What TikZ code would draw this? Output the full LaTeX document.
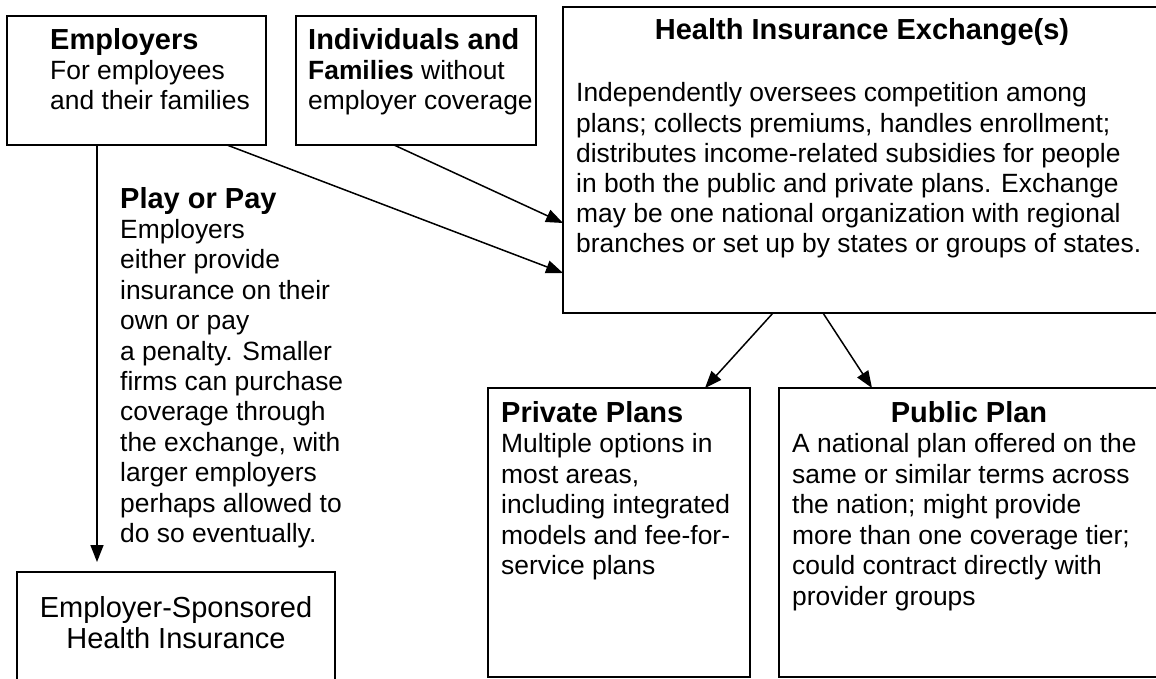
\documentclass[tikz,border=0pt]{standalone}
\usepackage{fontspec}
\setmainfont{Liberation Sans}
\usetikzlibrary{arrows.meta,calc}
\begin{document}
\begin{tikzpicture}[x=1pt,y=-1pt,
  box/.style={draw, line width=1.8pt, inner sep=0pt, outer sep=0pt, anchor=north west},
  arr/.style={line width=1.5pt, -{Triangle[length=17pt,width=13pt]}},
  txt/.style={anchor=base west, inner sep=0pt, font=\fontsize{26.4}{30}\selectfont},
  ttl/.style={anchor=base west, inner sep=0pt, font=\fontsize{29}{33}\selectfont\bfseries},
  big/.style={anchor=base, inner sep=0pt, font=\fontsize{29}{33}\selectfont}
]
\clip (0,0) rectangle (1156,679);
\fill[white] (0,0) rectangle (1156,679);

% boxes
\node[box, minimum width=259pt, minimum height=129pt] (emp) at (7,16) {};
\node[box, minimum width=240pt, minimum height=129pt] (ind) at (296,16) {};
\node[box, minimum width=598pt, minimum height=306pt] (exch) at (563,7) {};
\node[box, minimum width=262pt, minimum height=289pt] (priv) at (488,388) {};
\node[box, minimum width=381pt, minimum height=289pt] (pub) at (779,388) {};
\node[box, minimum width=318pt, minimum height=160pt] (esi) at (17,572) {};

% Employers
\node[ttl] (emp1) at (50,50) {Employers};
\node[txt] (emp2) at (50,80) {For employees};
\node[txt] (emp3) at (50,110) {and their families};

% Individuals
\node[ttl] (ind1) at (308,50) {Individuals and};
\node[txt] (ind2) at (308,80) {\bfseries Families\mdseries{} without};
\node[txt] (ind3) at (308,110) {employer coverage};

% Exchange
\node[ttl, anchor=base] (ex0) at (862,40) {Health Insurance Exchange(s)};
\foreach \t [count=\i from 0] in {
  Independently oversees competition among,
  {plans; collects premiums, handles enrollment;},
  distributes income-related subsidies for people,
  in both the public and private plans. Exchange,
  may be one national organization with regional,
  branches or set up by states or groups of states.}
  \node[txt] (ex\i) at (576,{102+30.1*\i}) {\t};

% Play or Pay
\node[ttl] (pp0) at (120,208) {Play or Pay};
\foreach \t [count=\i from 1] in {
  Employers,
  either provide,
  insurance on their,
  own or pay,
  a penalty. Smaller,
  firms can purchase,
  coverage through,
  {the exchange, with},
  larger employers,
  perhaps allowed to,
  do so eventually.}
  \node[txt] (pp\i) at (120,{208+30.4*\i}) {\t};

% Private Plans
\node[ttl] (pr0) at (501,422) {Private Plans};
\foreach \t [count=\i from 1] in {
  Multiple options in,
  {most areas,},
  including integrated,
  models and fee-for-,
  service plans}
  \node[txt] (pr\i) at (501,{422+30.5*\i}) {\t};

% Public Plan
\node[ttl, anchor=base] (pu0) at (969,422) {Public Plan};
\foreach \t [count=\i from 1] in {
  A national plan offered on the,
  same or similar terms across,
  the nation; might provide,
  more than one coverage tier;,
  could contract directly with,
  provider groups}
  \node[txt] (pu\i) at (792,{422+30.5*\i}) {\t};

% Employer-Sponsored
\node[big] (esi1) at (176,617) {Employer-Sponsored};
\node[big] (esi2) at (176,648) {Health Insurance};

% connectors
\draw[arr] ($(emp.south west)+(220,0)$) -- ($(exch.north west)+(0,266)$);
\draw[arr] ($(ind.south west)+(98,0)$) -- ($(exch.north west)+(0,216)$);
\draw[arr, shorten >=10pt] ($(emp.south west)+(90,0)$) -- ($(esi.north west)+(80,0)$);
\draw[arr] ($(exch.south west)+(210,0)$) -- ($(priv.north west)+(217,0)$);
\draw[arr] ($(exch.south west)+(260,0)$) -- ($(pub.north west)+(93,0)$);
\end{tikzpicture}
\end{document}
